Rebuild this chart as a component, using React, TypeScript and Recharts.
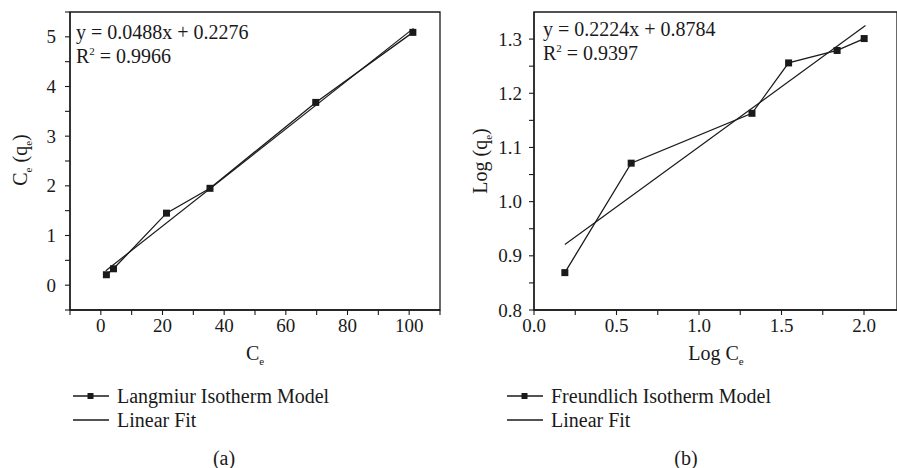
import React from 'react';
import {
  LineChart,
  Line,
  XAxis,
  YAxis,
  ReferenceArea,
  Label,
} from 'recharts';

// (a) Langmuir isotherm
const langmuirCe = [1.8, 4.1, 21.3, 35.4, 69.7, 101.2];
const langmuirCeQe = [0.21, 0.33, 1.45, 1.95, 3.68, 5.09];
const langmuirFitX = [1.6, 101.4];
const langmuirFitY = [0.29, 5.17];
const langmuirXMajor = [0, 20, 40, 60, 80, 100];
const langmuirXMinor = [-10, 10, 30, 50, 70, 90, 110];
const langmuirYMajor = [0, 1, 2, 3, 4, 5];
const langmuirYMinor = [-0.5, 0.5, 1.5, 2.5, 3.5, 4.5, 5.5];

// (b) Freundlich isotherm
const freundlichLogCe = [0.187, 0.589, 1.321, 1.543, 1.837, 2.001];
const freundlichLogQe = [0.869, 1.071, 1.163, 1.256, 1.279, 1.301];
const freundlichFitX = [0.187, 2.009];
const freundlichFitY = [0.921, 1.325];
const freundlichXMajor = [0, 0.5, 1, 1.5, 2];
const freundlichXMinor = [0.25, 0.75, 1.25, 1.75];
const freundlichYMajor = [0.8, 0.9, 1, 1.1, 1.2, 1.3];
const freundlichYMinor = [0.85, 0.95, 1.05, 1.15, 1.25];

const INK = '#1a1a1a';
const FONT = 'Liberation Serif, DejaVu Serif, serif';

const toPoints = (xs: number[], ys: number[]) => xs.map((x, i) => ({ x, y: ys[i] }));

const Square = (props: any) => {
  const { cx, cy, index } = props;
  if (cx == null || cy == null) return null;
  return <rect key={`sq-${index}`} x={cx - 3.5} y={cy - 3.5} width={7} height={7} fill={INK} />;
};

const makeXTick = (major: number[], fmt: (v: number) => string) => (props: any) => {
  const { x, y, payload } = props;
  if (!major.includes(payload.value)) return <g />;
  return (
    <text x={x} y={y} dy="0.71em" textAnchor="middle" fontSize={19} style={{ fontFamily: FONT }} fill={INK}>
      {fmt(payload.value)}
    </text>
  );
};

const makeYTick = (major: number[], fmt: (v: number) => string) => (props: any) => {
  const { x, y, payload } = props;
  if (!major.includes(payload.value)) return <g />;
  return (
    <text x={x} y={y} dy="0.35em" textAnchor="end" fontSize={19} style={{ fontFamily: FONT }} fill={INK}>
      {fmt(payload.value)}
    </text>
  );
};

const sortNum = (a: number[], b: number[]) => [...a, ...b].sort((p, q) => p - q);

function LegendBlock({ left, model }: { left: number; model: string }) {
  const row = (top: number, withMarker: boolean, text: string) => (
    <div style={{ position: 'absolute', left, top, height: 24, display: 'flex', alignItems: 'center' }}>
      <svg width={36} height={12} style={{ marginRight: 8 }}>
        <line x1={0} y1={6} x2={36} y2={6} stroke={INK} strokeWidth={1.3} />
        {withMarker && <rect x={14.5} y={3} width={6} height={6} fill={INK} />}
      </svg>
      <span style={{ fontSize: 20, color: INK, lineHeight: '24px' }}>{text}</span>
    </div>
  );
  return (
    <>
      {row(384, true, model)}
      {row(408, false, 'Linear Fit')}
    </>
  );
}

const textStyle = { fontFamily: FONT };

export default function App() {
  const langmuirData = toPoints(langmuirCe, langmuirCeQe);
  const langmuirFit = toPoints(langmuirFitX, langmuirFitY);
  const freundlichData = toPoints(freundlichLogCe, freundlichLogQe);
  const freundlichFit = toPoints(freundlichFitX, freundlichFitY);

  return (
    <div
      style={{
        position: 'absolute',
        left: 0,
        top: 0,
        width: 897,
        height: 468,
        background: '#fff',
        fontFamily: FONT,
        overflow: 'hidden',
      }}
    >
      <div style={{ position: 'absolute', left: 0, top: 0 }}>
        <LineChart width={450} height={468} margin={{ top: 12, right: 10, left: 0, bottom: 128 }} style={textStyle}>
          <XAxis
            dataKey="x"
            type="number"
            domain={[-10, 110]}
            ticks={sortNum(langmuirXMajor, langmuirXMinor)}
            interval={0}
            height={30}
            tickSize={5}
            tickMargin={4}
            axisLine={{ stroke: INK, strokeWidth: 1.3 }}
            tickLine={{ stroke: INK, strokeWidth: 1.1 }}
            tick={makeXTick(langmuirXMajor, (v) => String(v))}
          >
            <Label
              content={() => (
                <text x={255} y={360} textAnchor="middle" fontSize={20} style={textStyle} fill={INK}>
                  C<tspan fontSize={11} dy={5}>e</tspan>
                </text>
              )}
            />
          </XAxis>
          <YAxis
            dataKey="y"
            type="number"
            domain={[-0.5, 5.5]}
            ticks={sortNum(langmuirYMajor, langmuirYMinor)}
            interval={0}
            width={70}
            tickSize={5}
            tickMargin={9}
            axisLine={{ stroke: INK, strokeWidth: 1.3 }}
            tickLine={{ stroke: INK, strokeWidth: 1.1 }}
            tick={makeYTick(langmuirYMajor, (v) => String(v))}
          >
            <Label
              content={() => (
                <text transform="translate(27,160) rotate(-90)" textAnchor="middle" fontSize={20} style={textStyle} fill={INK}>
                  C<tspan fontSize={11} dy={5}>e</tspan>
                  <tspan dy={-5}> (q</tspan>
                  <tspan fontSize={11} dy={5}>e</tspan>
                  <tspan dy={-5}>)</tspan>
                </text>
              )}
            />
          </YAxis>
          <ReferenceArea x1={-10} x2={110} y1={-0.5} y2={5.5} fill="none" stroke={INK} strokeWidth={1.3} ifOverflow="visible" />
          <Line data={langmuirFit} dataKey="y" type="linear" stroke={INK} strokeWidth={1.2} dot={false} isAnimationActive={false} />
          <Line data={langmuirData} dataKey="y" type="linear" stroke={INK} strokeWidth={1.3} dot={Square} isAnimationActive={false} />
        </LineChart>
      </div>

      <div style={{ position: 'absolute', left: 450, top: 0 }}>
        <LineChart width={447} height={468} margin={{ top: 12, right: 0, left: 0, bottom: 128 }} style={textStyle}>
          <XAxis
            dataKey="x"
            type="number"
            domain={[0, 2.2]}
            ticks={sortNum(freundlichXMajor, freundlichXMinor)}
            interval={0}
            height={30}
            tickSize={5}
            tickMargin={4}
            axisLine={{ stroke: INK, strokeWidth: 1.3 }}
            tickLine={{ stroke: INK, strokeWidth: 1.1 }}
            tick={makeXTick(freundlichXMajor, (v) => v.toFixed(1))}
          >
            <Label
              content={() => (
                <text x={266} y={360} textAnchor="middle" fontSize={20} style={textStyle} fill={INK}>
                  Log C<tspan fontSize={11} dy={5}>e</tspan>
                </text>
              )}
            />
          </XAxis>
          <YAxis
            dataKey="y"
            type="number"
            domain={[0.8, 1.35]}
            ticks={sortNum(freundlichYMajor, freundlichYMinor)}
            interval={0}
            width={84}
            tickSize={5}
            tickMargin={7}
            axisLine={{ stroke: INK, strokeWidth: 1.3 }}
            tickLine={{ stroke: INK, strokeWidth: 1.1 }}
            tick={makeYTick(freundlichYMajor, (v) => v.toFixed(1))}
          >
            <Label
              content={() => (
                <text transform="translate(37,161) rotate(-90)" textAnchor="middle" fontSize={20} style={textStyle} fill={INK}>
                  Log (q<tspan fontSize={11} dy={5}>e</tspan>
                  <tspan dy={-5}>)</tspan>
                </text>
              )}
            />
          </YAxis>
          <ReferenceArea x1={0} x2={2.2} y1={0.8} y2={1.35} fill="none" stroke={INK} strokeWidth={1.3} ifOverflow="visible" />
          <Line data={freundlichFit} dataKey="y" type="linear" stroke={INK} strokeWidth={1.2} dot={false} isAnimationActive={false} />
          <Line data={freundlichData} dataKey="y" type="linear" stroke={INK} strokeWidth={1.3} dot={Square} isAnimationActive={false} />
        </LineChart>
      </div>

      {/* fit equations */}
      <div style={{ position: 'absolute', left: 76, top: 20, fontSize: 20, color: INK, lineHeight: '24px' }}>
        <div>y = 0.0488x + 0.2276</div>
        <div>R<sup style={{ fontSize: 11, verticalAlign: 'super', lineHeight: 0 }}>2</sup> = 0.9966</div>
      </div>
      <div style={{ position: 'absolute', left: 543, top: 17, fontSize: 20, color: INK, lineHeight: '24px' }}>
        <div>y = 0.2224x + 0.8784</div>
        <div>R<sup style={{ fontSize: 11, verticalAlign: 'super', lineHeight: 0 }}>2</sup> = 0.9397</div>
      </div>

      <LegendBlock left={73} model="Langmiur Isotherm Model" />
      <LegendBlock left={507} model="Freundlich Isotherm Model" />

      <div style={{ position: 'absolute', left: 204, width: 40, top: 446, textAlign: 'center', fontSize: 20, color: INK, lineHeight: '24px' }}>(a)</div>
      <div style={{ position: 'absolute', left: 666, width: 40, top: 446, textAlign: 'center', fontSize: 20, color: INK, lineHeight: '24px' }}>(b)</div>
    </div>
  );
}
